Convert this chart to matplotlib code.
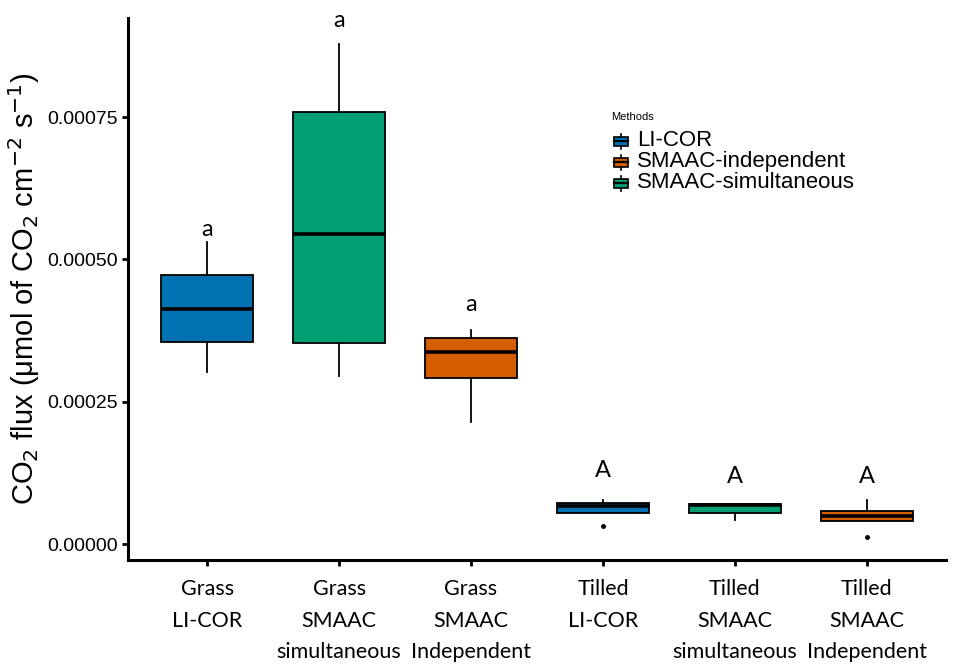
import numpy as np
import matplotlib
matplotlib.use('Agg')
import matplotlib.pyplot as plt
from matplotlib.patches import Patch, Rectangle
from matplotlib.lines import Line2D

# %% data (CO2 flux, umol of CO2 cm-2 s-1)
groups = ['Grass\nLI-COR', 'Grass\nSMAAC\nsimultaneous', 'Grass\nSMAAC\nIndependent',
          'Tilled\nLI-COR', 'Tilled\nSMAAC\nsimultaneous', 'Tilled\nSMAAC\nIndependent']
methods = ['LI-COR', 'SMAAC-simultaneous', 'SMAAC-independent',
           'LI-COR', 'SMAAC-simultaneous', 'SMAAC-independent']

whislo = [3.02e-4, 2.96e-4, 2.15e-4, 5.50e-5, 4.22e-5, 4.04e-5]
q1     = [3.55e-4, 3.53e-4, 2.91e-4, 5.50e-5, 5.39e-5, 4.04e-5]
med    = [4.13e-4, 5.45e-4, 3.37e-4, 6.67e-5, 6.80e-5, 4.92e-5]
q3     = [4.725e-4, 7.58e-4, 3.62e-4, 7.20e-5, 7.03e-5, 5.80e-5]
whishi = [5.30e-4, 8.78e-4, 3.76e-4, 7.73e-5, 7.03e-5, 7.73e-5]
fliers = [[], [], [], [3.16e-5], [], [1.18e-5]]

letters  = ['a', 'a', 'a', 'A', 'A', 'A']
letter_y = [5.41e-4, 9.09e-4, 4.10e-4, 1.18e-4, 1.07e-4, 1.07e-4]

legend_methods = ['LI-COR', 'SMAAC-independent', 'SMAAC-simultaneous']
colors = {'LI-COR': '#0072B2', 'SMAAC-independent': '#D55E00', 'SMAAC-simultaneous': '#009E73'}


# legend key drawn like a small boxplot
class BoxKey:
    def legend_artist(self, legend, orig_handle, fontsize, handlebox):
        x0, y0 = handlebox.xdescent, handlebox.ydescent
        w, h = handlebox.width, handlebox.height
        tr = handlebox.get_transform()
        whisk = Line2D([x0+w/2, x0+w/2], [y0-0.15*h, y0+1.15*h], color='black', lw=1.2, transform=tr)
        rect = Rectangle((x0, y0+0.1*h), w, 0.8*h, facecolor=orig_handle.get_facecolor(),
                         edgecolor='black', lw=1.2, transform=tr)
        mline = Line2D([x0, x0+w], [y0+h/2, y0+h/2], color='black', lw=1.6, transform=tr)
        handlebox.add_artist(whisk)
        handlebox.add_artist(rect)
        handlebox.add_artist(mline)
        return rect


# %% plot
fig = plt.figure(figsize=(9.6, 6.64), dpi=100)
ax = fig.add_axes([128/960, 1-560/664, (946-128)/960, (560-18)/664])

stats = []
for i in range(len(groups)):
    stats.append(dict(med=med[i], q1=q1[i], q3=q3[i], whislo=whislo[i], whishi=whishi[i], fliers=fliers[i]))

pos = np.arange(1, len(groups)+1)
bp = ax.bxp(stats, positions=pos, widths=0.7, patch_artist=True, showcaps=False,
            boxprops=dict(linewidth=1.3, edgecolor='black'),
            medianprops=dict(color='black', linewidth=2.6),
            whiskerprops=dict(color='black', linewidth=1.3),
            flierprops=dict(marker='o', markersize=2.5, markerfacecolor='black', markeredgecolor='black'))
for patch, m in zip(bp['boxes'], methods):
    patch.set_facecolor(colors[m])

for x, t, y in zip(pos, letters, letter_y):
    ax.text(x, y, t, ha='center', va='baseline', fontsize=17, family='Lato')

ax.set_xlim(0.4, 6.6)
ax.set_ylim(-2.81e-5, 9.24e-4)
ax.set_yticks([0, 0.00025, 0.0005, 0.00075])
ax.set_yticklabels(['0.00000', '0.00025', '0.00050', '0.00075'], fontsize=14, family='Liberation Sans')
ax.set_xticks(pos)
ax.set_xticklabels(groups, fontsize=15.5, family='Lato', linespacing=1.72, va='top')
ax.tick_params(axis='both', width=2, length=4, color='black')
ax.tick_params(axis='x', pad=10)
ax.tick_params(axis='y', pad=3)
ax.spines['top'].set_visible(False)
ax.spines['right'].set_visible(False)
ax.spines['left'].set_linewidth(2.2)
ax.spines['bottom'].set_linewidth(2.2)
ax.set_ylabel(r'CO$_2$ flux ($\mathregular{\mu}$mol of CO$_2$ cm$^{-2}$ s$^{-1}$)',
              fontsize=21, family='Liberation Sans', labelpad=4)

# legend title placed separately so it sits a bit higher above the keys
fig.text(611/960, 1-117/664, 'Methods', fontsize=8, family='Liberation Sans', va='center', ha='left')
handles = [Patch(facecolor=colors[m]) for m in legend_methods]
leg = fig.legend(handles, legend_methods, handler_map={Patch: BoxKey()},
                 loc='upper left', bbox_to_anchor=(598/960, 1-114/664), frameon=False,
                 prop={'family': 'Liberation Sans', 'size': 16},
                 handlelength=0.64, handleheight=0.46, handletextpad=0.4,
                 labelspacing=0.0, borderpad=0.2)

plt.savefig('out.png', dpi=100)
